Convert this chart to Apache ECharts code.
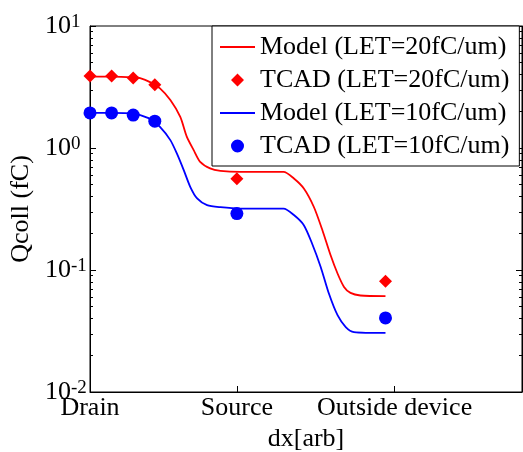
<!DOCTYPE html>
<html>
<head>
<meta charset="utf-8">
<script src="https://cdn.jsdelivr.net/npm/echarts@6/dist/echarts.min.js"></script>
<style>
  html, body { margin: 0; padding: 0; background: #fff; }
  #chart { width: 523px; height: 452px; }
</style>
</head>
<body>
<div id="chart"></div>
<script>
// x positions are in arbitrary units, 0..100 across the plot
var xTickValues = [0, 34, 70.5];
var xTickLabels = ['Drain', 'Source', 'Outside device'];

var tcadX = [0, 5, 10, 15, 34, 68.4];
var tcad20 = [3.9, 3.9, 3.75, 3.3, 0.56, 0.081];
var tcad10 = [1.94, 1.94, 1.86, 1.66, 0.29, 0.0405];

var model20X = [0, 5, 10, 11.6, 13.9, 16.2, 18.6, 20.9, 22.4, 24.0, 25.5, 27.8, 30.2, 34.8, 44.8,
    47.2, 49.5, 51.8, 53.8, 55.7, 57.3, 58.8, 60.3, 62.6, 68.4];
var model20 = [3.85, 3.85, 3.8, 3.74, 3.47, 3.08, 2.47, 1.80, 1.24, 0.961, 0.770, 0.680, 0.650, 0.638, 0.638,
    0.563, 0.466, 0.330, 0.212, 0.132, 0.0936, 0.0727, 0.0649, 0.0618, 0.0610];

var model10X = [0, 5, 10, 11.6, 13.9, 16.2, 18.6, 20.1, 21.7, 23.2, 24.8, 27.1, 30.2, 34.8, 44.8,
    47.2, 49.5, 51.4, 53.4, 55.3, 57.3, 59.2, 61.1, 68.4];
var model10 = [1.94, 1.94, 1.92, 1.86, 1.73, 1.49, 1.16, 0.903, 0.659, 0.481, 0.386, 0.340, 0.327, 0.319, 0.319,
    0.282, 0.233, 0.165, 0.106, 0.0641, 0.0426, 0.0341, 0.0310, 0.0305];

var seriesNames = ['Model (LET=20fC/um)', 'TCAD (LET=20fC/um)', 'Model (LET=10fC/um)', 'TCAD (LET=10fC/um)'];

function pairs(xs, ys) {
    var out = [];
    xs.forEach(function (x, i) {
        out.push([x, ys[i]]);
    });
    return out;
}

// minor log ticks (2..9 per decade), expressed as log10 for a helper value axis
var minorTicks = [];
[-2, -1, 0].forEach(function (d) {
    for (var k = 2; k <= 9; k++) {
        minorTicks.push(d + Math.log10(k));
    }
});

// legend icons: 35x14 box, corner dots keep the box size
var box = 'M0,0L0.01,0ZM35,14L34.99,14Z';
var lineIcon = 'path://' + box + 'M0,6.1L35,6.1L35,7.9L0,7.9Z';
var diamondIcon = 'path://' + box + 'M17.5,0.5L24,7L17.5,13.5L11,7Z';
var circleIcon = 'path://' + box + 'M11,7A6.5,6.5 0 1 1 24,7A6.5,6.5 0 1 1 11,7Z';

var font = 'Liberation Serif';
var chart = echarts.init(document.getElementById('chart'));

var majorAxis = function (pos, showLabel) {
    return {
        type: 'log',
        logBase: 10,
        min: 0.01,
        max: 10,
        position: pos,
        name: showLabel ? 'Qcoll (fC)' : '',
        nameLocation: 'middle',
        nameGap: 52,
        nameTextStyle: { fontFamily: font, fontSize: 26, color: '#000' },
        axisLine: { show: true, onZero: false, lineStyle: { color: '#000', width: 1 } },
        axisTick: { show: true, inside: true, length: 6, lineStyle: { color: '#000' } },
        splitLine: { show: false },
        axisLabel: {
            show: showLabel,
            margin: 45,
            align: 'left',
            verticalAlignMinLabel: 'middle',
            verticalAlignMaxLabel: 'middle',
            hideOverlap: false,
            formatter: function (v) {
                return '{b|10}{e|' + Math.round(Math.log10(v)) + '}';
            },
            rich: {
                b: { fontFamily: font, fontSize: 26, color: '#000', lineHeight: 26 },
                e: { fontFamily: font, fontSize: 19, color: '#000', verticalAlign: 'top', lineHeight: 8 }
            }
        }
    };
};

var minorAxis = function (pos) {
    return {
        type: 'value',
        min: -2,
        max: 1,
        position: pos,
        axisLine: { show: false, onZero: false },
        axisLabel: { show: false },
        splitLine: { show: false },
        axisTick: { show: true, inside: true, length: 3, customValues: minorTicks, lineStyle: { color: '#000' } }
    };
};

var option = {
    animation: false,
    backgroundColor: '#fff',
    textStyle: { fontFamily: font },
    grid: {
        left: 90,
        right: 1,
        top: 26,
        bottom: 60,
        outerBoundsMode: 'none',
        containLabel: false,
        show: true,
        borderColor: '#000',
        borderWidth: 1,
        backgroundColor: 'transparent'
    },
    legend: {
        data: [
            { name: seriesNames[0], icon: lineIcon },
            { name: seriesNames[1], icon: diamondIcon },
            { name: seriesNames[2], icon: lineIcon },
            { name: seriesNames[3], icon: circleIcon }
        ],
        orient: 'vertical',
        left: 212,
        top: 26,
        padding: [8, 10, 7, 8],
        itemGap: 7,
        itemWidth: 35,
        itemHeight: 14,
        itemTextGap: 8,
        backgroundColor: '#fff',
        borderColor: '#000',
        borderWidth: 1,
        borderRadius: 0,
        textStyle: { fontFamily: font, fontSize: 26, color: '#000', lineHeight: 26 }
    },
    xAxis: {
        type: 'value',
        min: 0,
        max: 100,
        name: 'dx[arb]',
        nameLocation: 'middle',
        nameGap: 18,
        nameTextStyle: { fontFamily: font, fontSize: 26, color: '#000' },
        axisLine: { show: true, onZero: false, lineStyle: { color: '#000', width: 1 } },
        axisTick: { show: true, inside: true, length: 6, customValues: xTickValues, lineStyle: { color: '#000' } },
        splitLine: { show: false },
        axisLabel: {
            customValues: xTickValues,
            margin: 3,
            hideOverlap: false,
            fontFamily: font,
            fontSize: 26,
            color: '#000',
            formatter: function (v) {
                var i = xTickValues.indexOf(v);
                return i >= 0 ? xTickLabels[i] : '';
            }
        }
    },
    yAxis: [majorAxis('left', true), minorAxis('left'), majorAxis('right', false), minorAxis('right')],
    series: [
        {
            name: seriesNames[0],
            type: 'line',
            data: pairs(model20X, model20),
            showSymbol: false,
            symbol: 'none',
            smooth: 0.25,
            lineStyle: { color: '#ff0000', width: 1.8 },
            itemStyle: { color: '#ff0000' }
        },
        {
            name: seriesNames[1],
            type: 'scatter',
            data: pairs(tcadX, tcad20),
            symbol: 'diamond',
            symbolSize: 13,
            itemStyle: { color: '#ff0000', opacity: 1 }
        },
        {
            name: seriesNames[2],
            type: 'line',
            data: pairs(model10X, model10),
            showSymbol: false,
            symbol: 'none',
            smooth: 0.25,
            lineStyle: { color: '#0000ff', width: 1.8 },
            itemStyle: { color: '#0000ff' }
        },
        {
            name: seriesNames[3],
            type: 'scatter',
            data: pairs(tcadX, tcad10),
            symbol: 'circle',
            symbolSize: 13,
            itemStyle: { color: '#0000ff', opacity: 1 }
        }
    ]
};

chart.setOption(option);
</script>
</body>
</html>
